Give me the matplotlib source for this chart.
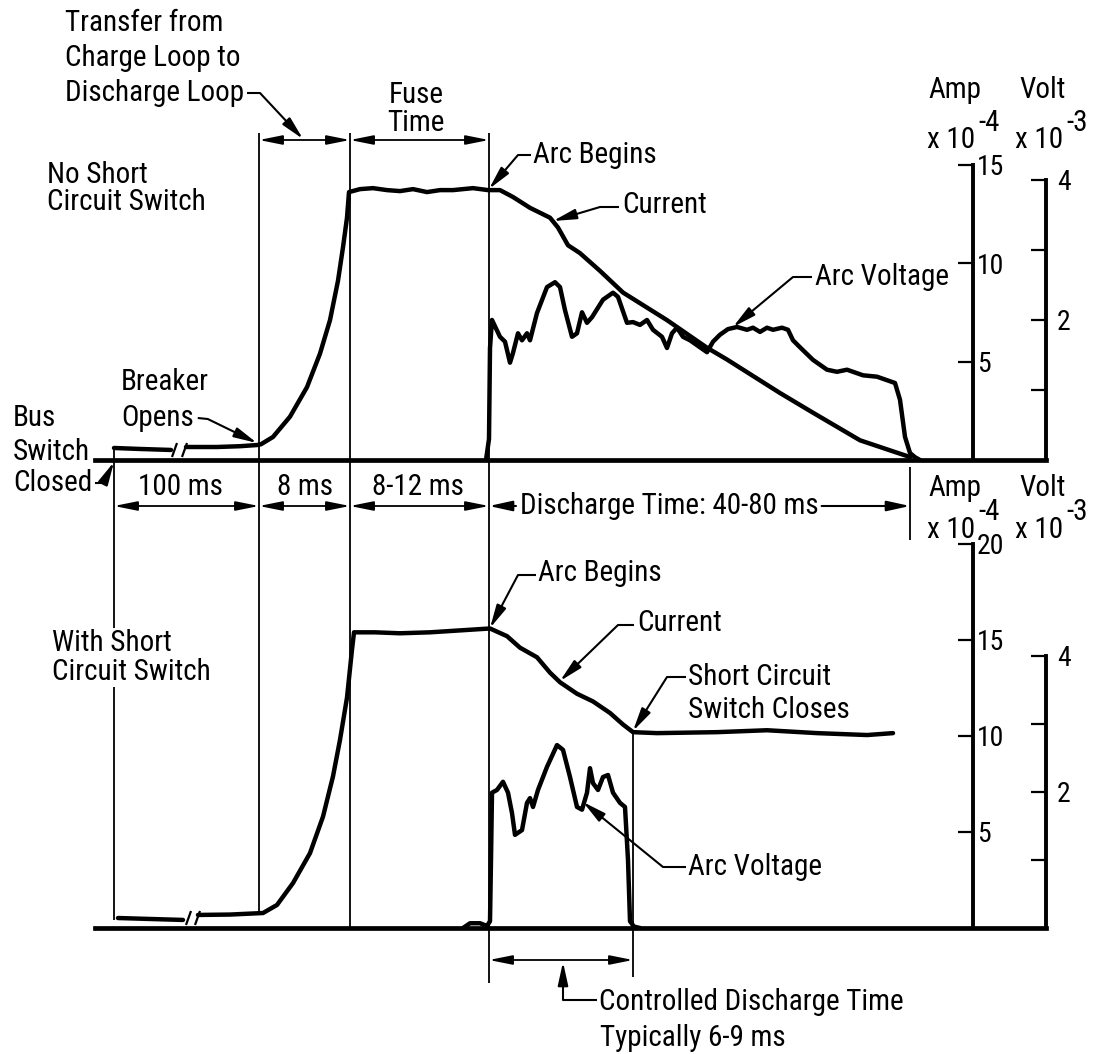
import matplotlib
matplotlib.use('Agg')
import matplotlib.pyplot as plt
from matplotlib import font_manager

# pick a narrow sans face if one is installed, the lettering in the original is condensed
FAMILY, STRETCH, FS = 'Liberation Sans', 'normal', 19
_entries = font_manager.fontManager.ttflist
for fam in ['Liberation Sans Narrow', 'Roboto Condensed', 'Open Sans Condensed',
            'Noto Sans', 'DejaVu Sans', 'Roboto', 'Open Sans', 'Inter']:
    hit = [f for f in _entries if f.name == fam and f.style == 'normal'
           and (f.stretch in ('condensed', 'semi-condensed', 'extra-condensed')
                or 'Narrow' in fam or 'Condensed' in fam)]
    if hit:
        FAMILY, STRETCH, FS = fam, hit[0].stretch, 21
        break
plt.rcParams['font.family'] = [FAMILY, 'Liberation Sans', 'DejaVu Sans']
plt.rcParams['font.stretch'] = STRETCH

W, H = 1097, 1054

# ---- data (t = position along the schematic time line) ----
# top: no short circuit switch.  current in Amp x1e-4, arc voltage in Volt x1e-3
top_cur_pre_t = [114, 140, 171]
top_cur_pre = [0.61, 0.56, 0.51]
top_cur_t = [186, 217, 240, 257, 261, 273, 290, 307, 320, 330, 338, 343, 347, 349,
             360, 373, 387, 400, 413, 427, 440, 453, 473, 488, 500, 513, 530, 550,
             558, 568, 580, 600, 623, 667, 707, 727, 780, 813, 860, 910]
top_cur = [0.66, 0.66, 0.7, 0.76, 0.8, 1.17, 2.2, 3.7, 5.4, 7.1, 9.1, 10.8, 12.3, 13.6,
           13.75, 13.8, 13.7, 13.65, 13.75, 13.6, 13.7, 13.7, 13.8, 13.7, 13.7, 13.35, 12.8, 12.3,
           11.8, 10.9, 10.5, 9.6, 8.5, 7.1, 5.7, 5.1, 3.4, 2.4, 1.0, 0.15]
top_volt_t = [486, 489, 490, 492, 500, 505, 510, 513, 518, 522, 527, 530, 537, 547, 555,
              560, 565, 572, 577, 582, 587, 592, 603, 613, 618, 627, 633, 640, 647, 653,
              662, 667, 672, 677, 683, 690, 697, 707, 713, 720, 728, 737, 747, 753, 760,
              767, 773, 782, 788, 793, 800, 813, 827, 837, 847, 863, 877, 887, 895, 900,
              905, 910, 915, 920]
top_volt = [0.0, 0.3, 1.6, 2.0, 1.76, 1.69, 1.39, 1.53, 1.81, 1.71, 1.81, 1.71, 2.1, 2.47, 2.54,
            2.47, 2.14, 1.76, 1.81, 2.11, 1.96, 2.04, 2.29, 2.39, 2.33, 1.96, 1.97, 1.93, 2.0, 1.86,
            1.76, 1.6, 1.81, 1.89, 1.76, 1.71, 1.64, 1.54, 1.69, 1.79, 1.87, 1.9, 1.86, 1.89, 1.83,
            1.89, 1.86, 1.89, 1.86, 1.71, 1.61, 1.43, 1.29, 1.26, 1.29, 1.21, 1.19, 1.14, 1.1, 0.86,
            0.33, 0.1, 0.04, 0.0]

# bottom: with short circuit switch
bot_cur_pre_t = [118, 150, 183]
bot_cur_pre = [0.52, 0.47, 0.42]
bot_cur_t = [198, 230, 263, 277, 293, 310, 323, 333, 340, 347, 352, 354, 375, 400, 430,
             460, 490, 507, 520, 537, 550, 560, 577, 593, 610, 623, 633, 657, 717, 767,
             817, 867, 893]
bot_cur = [0.68, 0.7, 0.78, 1.2, 2.34, 3.9, 5.8, 7.9, 9.8, 12.0, 14.5, 15.4, 15.4, 15.35, 15.4,
           15.5, 15.6, 15.2, 14.6, 14.1, 13.3, 12.8, 12.2, 11.8, 11.2, 10.6, 10.2, 10.15, 10.2, 10.3,
           10.15, 10.05, 10.15]
bot_volt_t = [463, 470, 480, 487, 490, 491, 492, 497, 503, 508, 512, 515, 518, 522, 527,
              530, 533, 538, 547, 557, 563, 570, 577, 582, 587, 590, 593, 598, 603, 608,
              613, 620, 625, 628, 630, 634, 640]
bot_volt = [0.0, 0.07, 0.07, 0.03, 0.1, 1.0, 1.99, 2.03, 2.15, 1.99, 1.69, 1.37, 1.4, 1.44, 1.84,
            1.91, 1.78, 2.03, 2.37, 2.69, 2.62, 2.22, 1.78, 1.74, 1.99, 2.35, 2.13, 2.03, 2.22, 2.25,
            1.99, 1.84, 1.78, 1.0, 0.1, 0.02, 0.0]

amp_ticks_top = [5, 10, 15]
amp_ticks_bot = [5, 10, 15, 20]
volt_ticks = [1, 2, 3, 4]
volt_labels = ['', '2', '', '4']

fig = plt.figure(figsize=(W / 100, H / 100), dpi=100)


def make_panel(base_px, top_px, px_amp, px_volt, amp_top, amp_ticks):
    ax = fig.add_axes([0, (H - base_px) / H, 1046 / W, (base_px - top_px) / H])
    axv = ax.twinx()
    ax.set_xlim(0, 1046)
    ax.set_ylim(0, (base_px - top_px) / px_amp)
    axv.set_ylim(0, (base_px - top_px) / px_volt)
    for a in (ax, axv):
        a.patch.set_visible(False)
        for s in ('top', 'left', 'bottom'):
            a.spines[s].set_visible(False)
        a.spines['right'].set_linewidth(2.8)
        a.tick_params(axis='y', direction='in', length=11, width=1.6,
                      labelsize=FS - 1, pad=3)
    ax.set_xticks([])
    ax.spines['bottom'].set_visible(True)
    ax.spines['bottom'].set_bounds(95, 1046)
    ax.spines['bottom'].set_linewidth(3.4)
    ax.spines['right'].set_position(('data', 973))
    ax.spines['right'].set_bounds(0, amp_top)
    ax.yaxis.set_ticks_position('right')
    ax.set_yticks(amp_ticks)
    ax.set_yticklabels([str(v) for v in amp_ticks])
    axv.spines['right'].set_bounds(0, 4)
    axv.set_yticks(volt_ticks)
    axv.set_yticklabels(volt_labels)
    axv.tick_params(axis='y', pad=8)
    return ax, axv


ax1, ax1v = make_panel(460, 0, 19.7, 70, 15, amp_ticks_top)
ax2, ax2v = make_panel(928, 470, 19.2, 68, 20, amp_ticks_bot)

kw = dict(color='k', lw=3.2, solid_capstyle='round', solid_joinstyle='round')
ax1.plot(top_cur_pre_t, top_cur_pre, **kw)
ax1.plot(top_cur_t, top_cur, **kw)
ax1v.plot(top_volt_t, top_volt, **kw)
ax2.plot(bot_cur_pre_t, bot_cur_pre, **kw)
ax2.plot(bot_cur_t, bot_cur, **kw)
ax2v.plot(bot_volt_t, bot_volt, **kw)

# ---- annotation layer ----
ann = fig.add_axes([0, 0, 1, 1])
ann.set_xlim(0, W)
ann.set_ylim(H, 0)
ann.axis('off')
ann.patch.set_visible(False)


def txt(x, y, s, ha='left', size=None, mask=False):
    box = dict(facecolor='white', edgecolor='none', pad=1) if mask else None
    return ann.text(x, y, s, ha=ha, va='center', fontsize=size or FS, bbox=box)


def right_end(t):
    fig.canvas.draw()
    bb = t.get_window_extent(fig.canvas.get_renderer())
    return ann.transData.inverted().transform((bb.x1, bb.y0))[0]


def line(pts, lw=1.3):
    xs, ys = zip(*pts)
    ann.plot(xs, ys, color='k', lw=lw, solid_capstyle='butt')


def leader(pts):
    if len(pts) > 2:
        line(pts[:-1], lw=1.5)
    ann.annotate('', xy=pts[-1], xytext=pts[-2],
                 arrowprops=dict(arrowstyle='-|>,head_length=1.0,head_width=0.22',
                                 lw=1.5, color='k', shrinkA=0, shrinkB=0,
                                 mutation_scale=14))


def dim(x0, x1, y):
    ann.annotate('', xy=(x1, y), xytext=(x0, y),
                 arrowprops=dict(arrowstyle='<|-|>,head_length=1.0,head_width=0.2',
                                 lw=1.3, color='k', shrinkA=0, shrinkB=0,
                                 mutation_scale=14))


# extension lines
line([(114, 448), (114, 920)])
line([(259, 133), (259, 913)])
line([(350, 133), (350, 928)])
line([(489, 133), (489, 983)])
line([(910, 467), (910, 540)])
line([(633, 731), (633, 977)])

# break marks
for x in (172, 182):
    line([(x, 457), (x + 5, 443)], lw=1.6)
for x in (186, 195):
    line([(x, 925), (x + 5, 911)], lw=1.6)

# top labels
txt(65, 23, 'Transfer from')
txt(65, 58, 'Charge Loop to')
t = txt(65, 93, 'Discharge Loop')
e = right_end(t) + 3
leader([(e, 93), (max(e + 12, 260), 93), (303, 139)])
dim(259, 350, 140)
dim(350, 489, 140)
txt(416, 95, 'Fuse', ha='center')
txt(416, 123, 'Time', ha='center')
txt(47, 175, 'No Short')
txt(47, 202, 'Circuit Switch')
txt(121, 382, 'Breaker')
t = txt(121, 418, 'Opens')
e = right_end(t) + 4
leader([(e, 418), (e + 10, 419), (257, 443)])
txt(13, 418, 'Bus')
txt(13, 452, 'Switch')
t = txt(13, 483, 'Closed')
e = right_end(t) + 3
leader([(e, 483), (e + 8, 483), (114, 462)])
txt(533, 155, 'Arc Begins')
leader([(531, 155), (518, 155), (489, 189)])
txt(622, 205, 'Current')
leader([(619, 207), (600, 207), (553, 221)])
txt(815, 277, 'Arc Voltage')
leader([(812, 277), (793, 277), (733, 327)])

# middle time row
dim(114, 259, 506)
dim(259, 350, 506)
dim(350, 489, 506)
txt(180, 487, '100 ms', ha='center')
txt(305, 487, '8 ms', ha='center')
txt(418, 487, '8-12 ms', ha='center')
leader([(516, 506), (489, 506)])
t = txt(520, 506, 'Discharge Time: 40-80 ms')
e = right_end(t) + 3
leader([(e, 506), (910, 506)])

# axis titles
for (ya, yx, ys) in ((90, 140, 123), (488, 530, 512)):
    txt(955, ya, 'Amp', ha='center')
    txt(975, yx, 'x 10', ha='right')
    txt(978, ys, '-4')
    txt(1043, ya, 'Volt', ha='center')
    txt(1063, yx, 'x 10', ha='right')
    txt(1066, ys, '-3')

# bottom labels
txt(52, 643, 'With Short', mask=True)
txt(52, 672, 'Circuit Switch', mask=True)
txt(538, 573, 'Arc Begins')
leader([(536, 575), (518, 575), (490, 628)])
txt(637, 623, 'Current')
leader([(634, 625), (618, 625), (560, 681)])
txt(688, 677, 'Short Circuit')
txt(688, 710, 'Switch Closes')
leader([(686, 677), (667, 677), (633, 731)])
txt(688, 867, 'Arc Voltage')
leader([(686, 867), (663, 867), (583, 802)])

dim(489, 633, 960)
leader([(597, 1000), (563, 1000), (563, 962)])
txt(599, 1002, 'Controlled Discharge Time')
txt(600, 1038, 'Typically 6-9 ms')

fig.savefig('out.png', dpi=100)
